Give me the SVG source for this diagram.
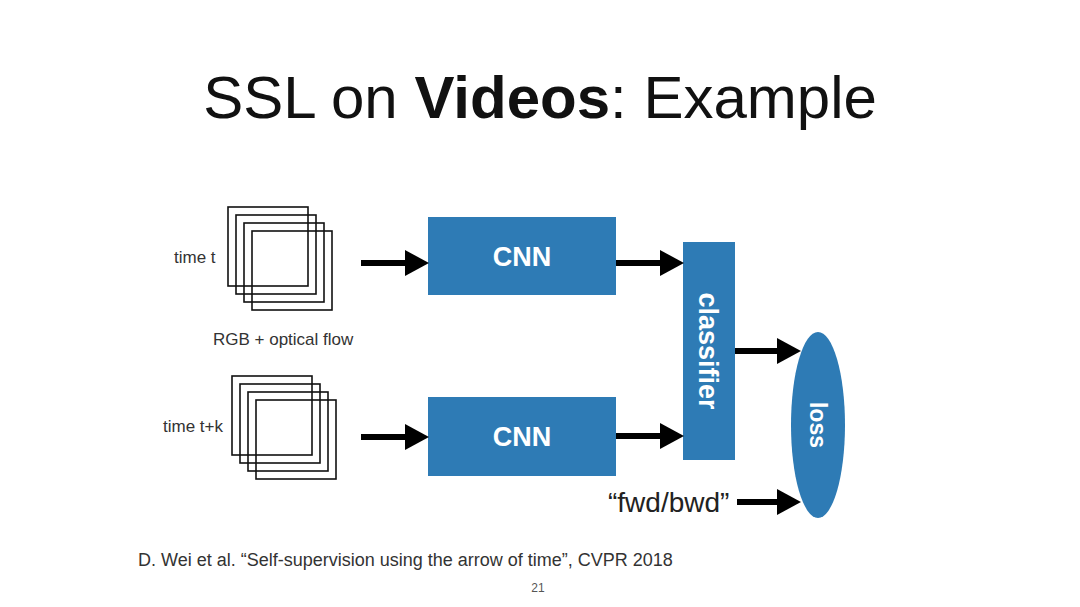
<svg xmlns="http://www.w3.org/2000/svg" width="1080" height="607" viewBox="0 0 1080 607">
<defs>
<style>
.t{font-family:"Liberation Sans",Arial,sans-serif;}
.lbl{font-family:"Liberation Sans",Arial,sans-serif;font-size:17px;fill:#333;}
.box{fill:#2e7bb5;}
.wt{font-family:"Liberation Sans",Arial,sans-serif;font-weight:bold;fill:#fff;}
.frame{fill:none;stroke:#111;stroke-width:1.6;}
.shaft{stroke:#000;stroke-width:6;fill:none;}
</style>
<marker id="ah" markerUnits="userSpaceOnUse" markerWidth="24" markerHeight="26" refX="0" refY="13" orient="auto">
<path d="M0,0 L24,13 L0,26 Z" fill="#000"/>
</marker>
</defs>
<rect width="1080" height="607" fill="#fff"/>
<text class="t" x="540" y="118" font-size="60" text-anchor="middle" fill="#111">SSL on <tspan font-weight="bold">Videos</tspan>: Example</text>

<g id="frames-t">
<rect class="frame" x="228" y="207" width="80" height="79"/>
<rect class="frame" x="236" y="215" width="80" height="79"/>
<rect class="frame" x="244" y="223" width="80" height="79"/>
<rect class="frame" x="252" y="231" width="80" height="79"/>
<text class="lbl" x="174" y="263">time t</text>
</g>
<text class="lbl" x="213" y="345">RGB + optical flow</text>
<g id="frames-tk">
<rect class="frame" x="232" y="376" width="80" height="79"/>
<rect class="frame" x="240" y="384" width="80" height="79"/>
<rect class="frame" x="248" y="392" width="80" height="79"/>
<rect class="frame" x="256" y="400" width="80" height="79"/>
<text class="lbl" x="163" y="432">time t+k</text>
</g>

<g id="cnn1">
<rect class="box" x="428" y="217" width="188" height="78"/>
<text class="wt" x="522" y="266" font-size="27" text-anchor="middle">CNN</text>
</g>
<g id="cnn2">
<rect class="box" x="428" y="397" width="188" height="79"/>
<text class="wt" x="522" y="446" font-size="27" text-anchor="middle">CNN</text>
</g>
<g id="classifier">
<rect class="box" x="683" y="242" width="52" height="218"/>
<text class="wt" transform="translate(699,351) rotate(90)" font-size="27" text-anchor="middle">classifier</text>
</g>
<g id="loss">
<ellipse class="box" cx="818" cy="425" rx="27" ry="93"/>
<text class="wt" transform="translate(810,425) rotate(90)" font-size="23" text-anchor="middle">loss</text>
</g>
<g id="label-fwd">
<text class="t" x="608" y="512" font-size="28" fill="#222">“fwd/bwd”</text>
</g>

<g id="connectors">
<path class="shaft" d="M361,263 H405" marker-end="url(#ah)"/>
<path class="shaft" d="M361,437 H405" marker-end="url(#ah)"/>
<path class="shaft" d="M616,263 H660" marker-end="url(#ah)"/>
<path class="shaft" d="M616,436 H660" marker-end="url(#ah)"/>
<path class="shaft" d="M735,351 H777" marker-end="url(#ah)"/>
<path class="shaft" d="M737,502 H777" marker-end="url(#ah)"/>
</g>

<text class="t" x="138" y="566" font-size="18" fill="#333">D. Wei et al. “Self-supervision using the arrow of time”, CVPR 2018</text>
<text class="t" x="538" y="592" font-size="12" fill="#555" text-anchor="middle">21</text>
</svg>
